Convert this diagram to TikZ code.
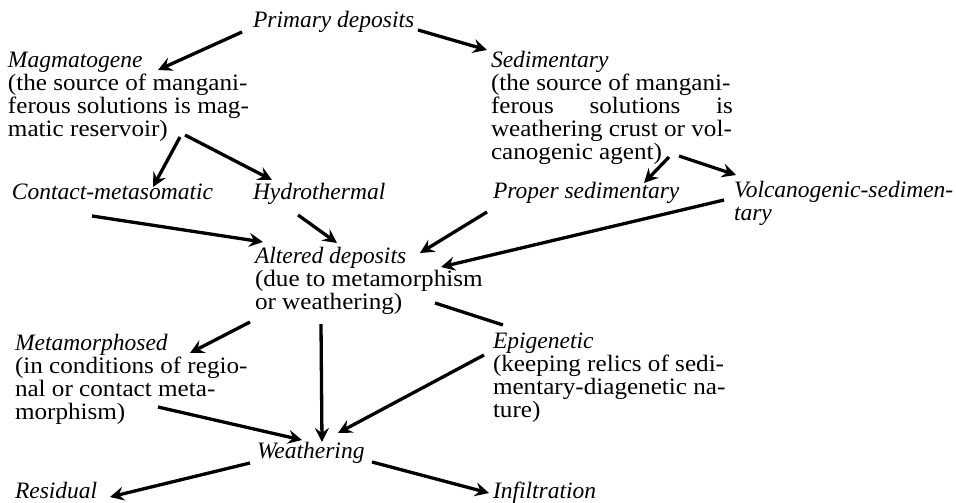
\documentclass[tikz,border=0pt]{standalone}
\usepackage{fontspec}
\setmainfont{Liberation Serif}
\newfontfamily\upfont[FakeStretch=1.07]{Liberation Serif}
\usetikzlibrary{arrows.meta}
\newcommand{\hd}[1]{\hbox{\itshape #1}}
\newcommand{\txl}[1]{\hbox{\upfont #1}}
\begin{document}
\begin{tikzpicture}[x=1pt,y=-1pt,
  lbl/.style={inner sep=0pt,outer sep=0pt,anchor=base west,font=\fontsize{23.5}{23}\selectfont},
  arr/.style={line width=3.3pt,-{Stealth[length=14pt,width=14pt,inset=5pt]}},
  plain/.style={line width=3.3pt}]
\useasboundingbox (0,0) rectangle (956,503);
% nodes
\node[lbl] (prim) at (253,28) {\itshape Primary deposits};
\node[lbl] (mag) at (8,68) {\vtop{\hd{Magmatogene}\txl{(the source of mangani-}\txl{ferous solutions is mag-}\txl{matic reservoir)}}};
\node[lbl] (sed) at (491,68) {\vtop{\hd{Sedimentary}\txl{(the source of mangani-}\txl{\makebox[242pt][s]{ferous\hfill solutions\hfill is}}\txl{weathering crust or vol-}\txl{canogenic agent)}}};
\node[lbl] (contact) at (12,199) {\itshape Contact-metasomatic};
\node[lbl] (hydro) at (253,199) {\itshape Hydrothermal};
\node[lbl] (proper) at (493,198) {\itshape Proper sedimentary};
\node[lbl] (volc) at (734,197) {\vtop{\hd{Volcanogenic-sedimen-}\hd{tary}}};
\node[lbl] (alt) at (255,263) {\vtop{\hd{Altered deposits}\txl{(due to metamorphism}\txl{or weathering)}}};
\node[lbl] (meta) at (15,350) {\vtop{\hd{Metamorphosed}\txl{(in conditions of regio-}\txl{nal or contact meta-}\txl{morphism)}}};
\node[lbl] (epi) at (493,348) {\vtop{\hd{Epigenetic}\txl{(keeping relics of sedi-}\txl{mentary-diagenetic na-}\txl{ture)}}};
\node[lbl] (weath) at (257,458) {\itshape Weathering};
\node[lbl] (resid) at (15,498) {\itshape Residual};
\node[lbl] (infil) at (493,498) {\itshape Infiltration};
% connectors
\draw[arr] ([shift={(-11,4)}]prim.base west) -- ([shift={(150,2)}]mag.base west);
\draw[arr] ([shift={(165,2)}]prim.base west) -- ([shift={(-4,-18)}]sed.base west);
\draw[arr] ([shift={(172,69)}]mag.base west) -- ([shift={(141,-12)}]contact.base west);
\draw[arr] ([shift={(177,67)}]mag.base west) -- ([shift={(19,-19)}]hydro.base west);
\draw[arr] ([shift={(178,89)}]sed.base west) -- ([shift={(151,-15)}]proper.base west);
\draw[arr] ([shift={(188,88)}]sed.base west) -- ([shift={(2,-22)}]volc.base west);
\draw[arr] ([shift={(80,17)}]contact.base west) -- ([shift={(8,-21)}]alt.base west);
\draw[arr] ([shift={(45,16)}]hydro.base west) -- ([shift={(82,-20)}]alt.base west);
\draw[arr] ([shift={(-6,14)}]proper.base west) -- ([shift={(165,-10)}]alt.base west);
\draw[arr] ([shift={(-10,3)}]volc.base west) -- ([shift={(186,4)}]alt.base west);
\draw[arr] ([shift={(-5,59)}]alt.base west) -- ([shift={(175,3)}]meta.base west);
\draw[arr] ([shift={(66,61)}]alt.base west) -- ([shift={(65,-16)}]weath.base west);
\draw[plain] ([shift={(180,40)}]alt.base west) -- ([shift={(10,-23)}]epi.base west);
\draw[arr] ([shift={(143,57)}]meta.base west) -- ([shift={(45,-18)}]weath.base west);
\draw[arr] ([shift={(-9,7)}]epi.base west) -- ([shift={(81,-25)}]weath.base west);
\draw[arr] ([shift={(-7,5)}]weath.base west) -- ([shift={(95,-1)}]resid.base west);
\draw[arr] ([shift={(115,4)}]weath.base west) -- ([shift={(-4,-5)}]infil.base west);
\end{tikzpicture}
\end{document}
